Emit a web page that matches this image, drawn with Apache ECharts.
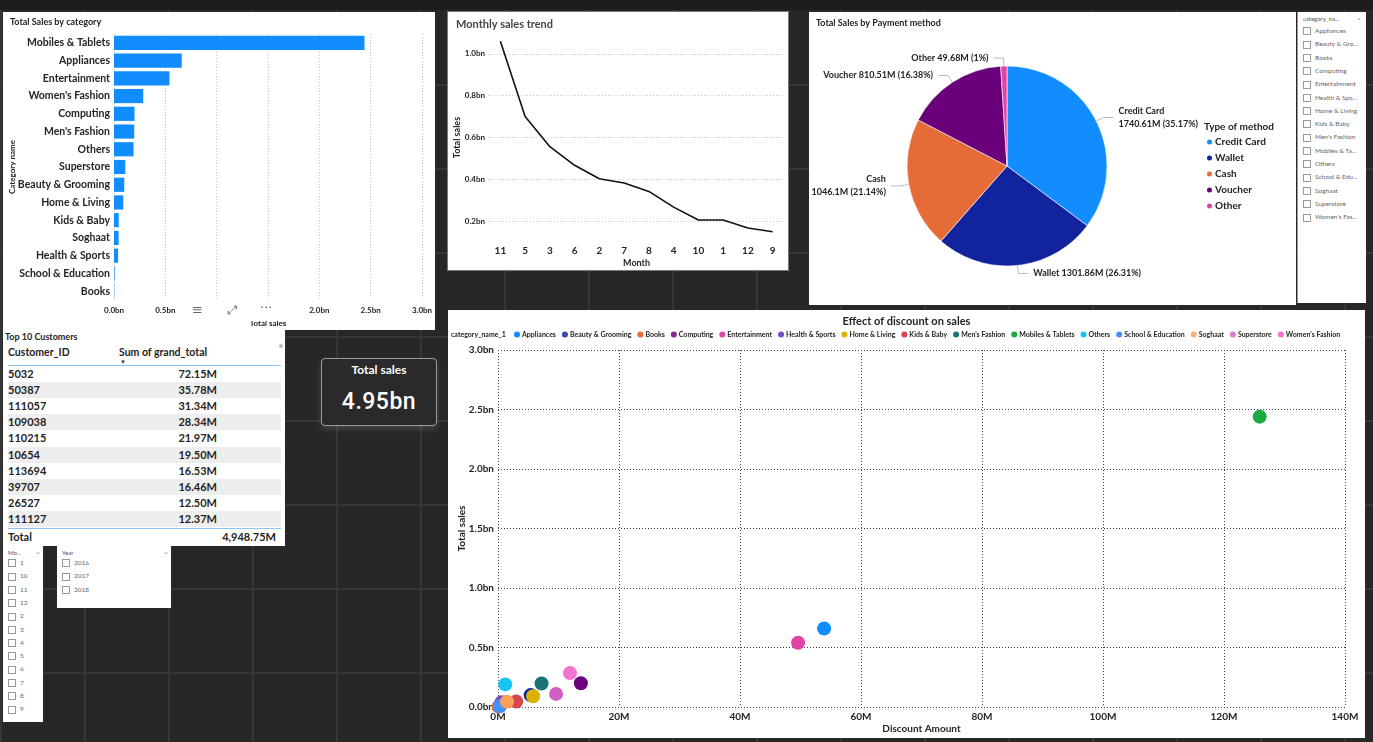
<!DOCTYPE html>
<html>
<head>
<meta charset="utf-8">
<script src="https://cdn.jsdelivr.net/npm/echarts@6/dist/echarts.min.js"></script>
<style>
  html, body { margin: 0; padding: 0; }
  body {
    width: 1373px; height: 742px; overflow: hidden; position: relative;
    background-color: #272727;
    background-image: linear-gradient(#363636 2px, transparent 2px), linear-gradient(90deg, #363636 2px, transparent 2px);
    background-size: 84px 84px;
    font-family: Lato, "Noto Sans", sans-serif;
  }
  .panel { position: absolute; background: #fff; }
  .slicer { position: absolute; background: #fff; color: #666; font-size: 6.5px; }
  .slicer .hd { position: absolute; font-size: 6px; color: #555; }
  .slicer .chev { position: absolute; font-size: 7px; color: #888; }
  .item { position: absolute; white-space: nowrap; }
  .box { display: inline-block; width: 6px; height: 6px; border: 1px solid #999; vertical-align: middle; margin-right: 4px; }
  .cell { position: absolute; font-size: 11px; font-weight: bold; color: #252423; white-space: nowrap; line-height: 16px; }
</style>
</head>
<body>
<div style="position:absolute;left:0;top:0;width:1373px;height:10px;background:#1d1d1d"></div>
<div id="bar" class="panel" style="left:3px;top:12px;width:432px;height:318px"></div>
<div id="line" class="panel" style="left:448px;top:12px;width:340px;height:258px;outline:1px solid #777"></div>
<div id="pie" class="panel" style="left:809px;top:12px;width:487px;height:293px"></div>
<div id="catSlicer" class="slicer" style="left:1297px;top:12px;width:68px;height:291px;border-left:1px solid #999"></div>
<div id="table" class="panel" style="left:3px;top:330px;width:282px;height:216px"></div>
<div id="card" style="position:absolute;left:321px;top:358px;width:114px;height:66px;border:1px solid #9a9a9a;border-radius:4px;background:#2a2a2a;box-shadow:0 3px 6px rgba(255,255,255,0.15);color:#fff;text-align:center">
  <div id="cardTitle" style="position:absolute;left:0;right:0;top:3px;font-size:12px;font-weight:bold"></div>
  <div id="cardValue" style="position:absolute;left:0;right:0;top:29px;font-size:23px;font-weight:500;font-family:Roboto,sans-serif;letter-spacing:0.5px"></div>
</div>
<div id="monthSlicer" class="slicer" style="left:3px;top:546px;width:40px;height:176px"></div>
<div id="yearSlicer" class="slicer" style="left:57px;top:546px;width:114px;height:62px"></div>
<div id="scatter" class="panel" style="left:448px;top:310px;width:917px;height:428px"></div>
<!-- hover icons sitting over the bar chart axis -->
<div style="position:absolute;left:188px;top:303px;width:94px;height:18px;background:#fff;color:#666;font-size:13px;font-family:'DejaVu Sans',sans-serif">
  <span style="position:absolute;left:4px;top:-1px">≡</span>
  <span style="position:absolute;left:40px;top:0px;font-size:12px">⤢</span>
  <span style="position:absolute;left:72px;top:-3px">···</span>
</div>

<script>
var FONT = 'Lato, "Noto Sans", sans-serif';
var INK = '#252423';

// categories, sorted by total sales (bn)
var categories = ['Mobiles & Tablets', 'Appliances', 'Entertainment', "Women's Fashion", 'Computing',
  "Men's Fashion", 'Others', 'Superstore', 'Beauty & Grooming', 'Home & Living', 'Kids & Baby',
  'Soghaat', 'Health & Sports', 'School & Education', 'Books'];
var salesBn = [2.44, 0.66, 0.54, 0.285, 0.20, 0.197, 0.19, 0.11, 0.10, 0.09, 0.046, 0.045, 0.04, 0.006, 0.003];
var discountM = [125.9, 53.9, 49.6, 11.9, 13.7, 7.2, 1.2, 9.6, 5.4, 5.8, 3.0, 1.5, 0.6, 0.3, 0.1];

// legend order of the scatter and its palette
var legendOrder = ['Appliances', 'Beauty & Grooming', 'Books', 'Computing', 'Entertainment', 'Health & Sports',
  'Home & Living', 'Kids & Baby', "Men's Fashion", 'Mobiles & Tablets', 'Others', 'School & Education',
  'Soghaat', 'Superstore', "Women's Fashion"];
var palette = ['#118DFF', '#12239E', '#E66C37', '#6B007B', '#E044A7', '#744EC2', '#D9B300', '#D64550',
  '#197278', '#1AAB40', '#15C6F4', '#4092FF', '#FFA058', '#D35FC4', '#F472D0'];
var dotted = ['Beauty & Grooming', 'Computing', 'Soghaat', 'Superstore'];

var months = ['11', '5', '3', '6', '2', '7', '8', '4', '10', '1', '12', '9'];
var monthlySalesBn = [1.06, 0.70, 0.556, 0.467, 0.403, 0.382, 0.342, 0.267, 0.205, 0.205, 0.167, 0.149];

var methods = ['Credit Card', 'Wallet', 'Cash', 'Voucher', 'Other'];
var methodSalesM = [1740.61, 1301.86, 1046.1, 810.51, 49.68];
var methodColors = ['#118DFF', '#12239E', '#E66C37', '#6B007B', '#E044A7'];

var customerIds = ['5032', '50387', '111057', '109038', '110215', '10654', '113694', '39707', '26527', '111127'];
var customerTotals = ['72.15M', '35.78M', '31.34M', '28.34M', '21.97M', '19.50M', '16.53M', '16.46M', '12.50M', '12.37M'];
var customerGrandTotal = '4,948.75M';

var totalSales = '4.95bn';
var slicerCategories = ['Appliances', 'Beauty & Gro...', 'Books', 'Computing', 'Entertainment', 'Health & Spo...',
  'Home & Living', 'Kids & Baby', "Men's Fashion", 'Mobiles & Ta...', 'Others', 'School & Edu...', 'Soghaat',
  'Superstore', "Women's Fas..."];
var slicerMonths = ['1', '10', '11', '12', '2', '3', '4', '5', '6', '7', '8', '9'];
var slicerYears = ['2016', '2017', '2018'];

function axisText(size) {
  return { fontSize: size, fontWeight: 'bold', color: INK, fontFamily: FONT };
}

// bar: total sales by category
function plotBar() {
  var chart = echarts.init(document.getElementById('bar'));
  chart.setOption({
    animation: false,
    title: { text: 'Total Sales by category', left: 2, top: 1, textStyle: axisText(9) },
    grid: { left: 111, right: 13, top: 22, bottom: 30, containLabel: false, outerBoundsMode: 'none' },
    xAxis: {
      type: 'value', min: 0, max: 3, interval: 0.5,
      axisLabel: { formatter: function (v) { return v.toFixed(1) + 'bn'; }, margin: 6, fontSize: 8, fontWeight: 'bold', color: INK, fontFamily: FONT },
      splitLine: { lineStyle: { type: [1, 2], color: '#c8c8c8' } },
      name: 'Total sales', nameLocation: 'middle', nameGap: 19, nameMoveOverlap: false, nameTextStyle: axisText(8)
    },
    yAxis: {
      type: 'category', inverse: true, data: categories,
      axisLine: { show: false }, axisTick: { show: false },
      axisLabel: { margin: 4, fontSize: 10.5, fontWeight: 'bold', color: INK, fontFamily: FONT },
      name: 'Category name', nameLocation: 'middle', nameGap: 98, nameMoveOverlap: false, nameTextStyle: axisText(8)
    },
    series: [{ type: 'bar', data: salesBn, barCategoryGap: '20%', itemStyle: { color: '#118DFF' } }]
  });
}

// line: monthly sales trend
function plotLine() {
  var chart = echarts.init(document.getElementById('line'));
  chart.setOption({
    animation: false,
    title: { text: 'Monthly sales trend', left: 3, top: 2, textStyle: { fontSize: 11, fontWeight: 'bold', color: '#444', fontFamily: FONT } },
    grid: { left: 40, right: 3, top: 21, bottom: 28, containLabel: false, outerBoundsMode: 'none' },
    xAxis: {
      type: 'category', data: months,
      axisLine: { show: false }, axisTick: { show: false },
      axisLabel: { margin: 4, fontSize: 10, fontWeight: 'bold', color: INK, fontFamily: FONT },
      name: 'Month', nameLocation: 'middle', nameGap: 17, nameMoveOverlap: false, nameTextStyle: axisText(9)
    },
    yAxis: {
      type: 'value', min: 0.1, max: 1.1, interval: 0.1,
      axisLabel: {
        formatter: function (v) { return Math.round(v * 10) % 2 === 0 ? v.toFixed(1) + 'bn' : ''; },
        margin: 3, fontSize: 8, fontWeight: 'bold', color: INK, fontFamily: FONT
      },
      splitLine: { lineStyle: { type: [1, 2], color: ['rgba(0,0,0,0)', '#c8c8c8'] } },
      name: 'Total sales', nameLocation: 'middle', nameGap: 26, nameMoveOverlap: false, nameTextStyle: axisText(9)
    },
    series: [{ type: 'line', data: monthlySalesBn, symbol: 'none', lineStyle: { color: '#111', width: 1.6 } }]
  });
}

// pie: total sales by payment method
function plotPie() {
  var chart = echarts.init(document.getElementById('pie'));
  var total = methodSalesM.reduce(function (a, b) { return a + b; }, 0);
  var data = methods.map(function (m, i) {
    return { name: m, value: methodSalesM[i], itemStyle: { color: methodColors[i] } };
  });
  chart.setOption({
    animation: false,
    title: { text: 'Total Sales by Payment method', left: 2, top: 2, textStyle: axisText(9) },
    legend: {
      data: methods, orient: 'vertical', left: 396, top: 125, icon: 'circle',
      itemWidth: 7, itemHeight: 7, itemGap: 6, padding: 0,
      textStyle: { fontSize: 10, fontWeight: 'bold', color: INK, fontFamily: FONT, padding: [0, 0, 0, -3] }
    },
    graphic: [{ type: 'text', left: 395, top: 110, style: { text: 'Type of method', fontSize: 10, fontWeight: 'bold', fill: INK, fontFamily: FONT } }],
    series: [{
      type: 'pie', center: [198, 154], radius: 100, startAngle: 90,
      data: data,
      itemStyle: { borderColor: '#fff', borderWidth: 0.6 },
      label: {
        width: 140, overflow: 'none',
        fontSize: 9, fontWeight: 'bold', color: INK, fontFamily: FONT, lineHeight: 13,
        formatter: function (p) {
          var pct = parseFloat((p.value / total * 100).toFixed(2));
          var txt = parseFloat(p.value.toFixed(2)) + 'M (' + pct + '%)';
          return (p.name === 'Credit Card' || p.name === 'Cash') ? p.name + '\n' + txt : p.name + ' ' + txt;
        }
      },
      labelLine: { length: 8, length2: 10, lineStyle: { color: '#bbb' } }
    }]
  });
}

// scatter: effect of discount on sales
function plotScatter() {
  var chart = echarts.init(document.getElementById('scatter'));
  var series = legendOrder.map(function (name, i) {
    var k = categories.indexOf(name);
    var dots = dotted.indexOf(name) >= 0;
    return {
      name: name, type: 'scatter', symbolSize: 14,
      data: [[discountM[k], salesBn[k]]],
      itemStyle: {
        color: palette[i], opacity: 1,
        // dotted fill on a few markers, an invisible pattern on the rest
        decal: {
          symbol: 'circle', symbolSize: 0.7, dashArrayX: [2, 0], dashArrayY: [2, 0],
          color: dots ? 'rgba(255,255,255,0.5)' : 'rgba(255,255,255,0)'
        }
      }
    };
  });
  chart.setOption({
    animation: false,
    aria: { enabled: true, decal: { show: true } },
    title: { text: 'Effect of discount on sales', left: 'center', top: 1, textStyle: { fontSize: 11, fontWeight: 'bold', color: INK, fontFamily: FONT } },
    graphic: [{ type: 'text', left: 3, top: 21, style: { text: 'category_name_1', fontSize: 7, fontWeight: 'bold', fill: INK, fontFamily: FONT } }],
    legend: {
      data: legendOrder, left: 66, top: 21, icon: 'circle', itemWidth: 6, itemHeight: 6, itemGap: 6, padding: 0,
      textStyle: { fontSize: 7, fontWeight: 'bold', color: INK, fontFamily: FONT, padding: [0, 0, 0, -3] }
    },
    grid: { left: 50, right: 20, top: 40, bottom: 31, containLabel: false, outerBoundsMode: 'none' },
    xAxis: {
      type: 'value', min: 0, max: 140, interval: 20,
      axisLine: { show: false }, axisTick: { show: false },
      axisLabel: { formatter: '{value}M', margin: 5, fontSize: 10, fontWeight: 'bold', color: INK, fontFamily: FONT },
      splitLine: { lineStyle: { type: [1, 2], color: '#444' } },
      name: 'Discount Amount', nameLocation: 'middle', nameGap: 17, nameMoveOverlap: false, nameTextStyle: axisText(10)
    },
    yAxis: {
      type: 'value', min: 0, max: 3, interval: 0.5,
      axisLine: { show: false }, axisTick: { show: false },
      axisLabel: { formatter: function (v) { return v.toFixed(1) + 'bn'; }, margin: 4, fontSize: 10, fontWeight: 'bold', color: INK, fontFamily: FONT },
      splitLine: { lineStyle: { type: [1, 2], color: '#444' } },
      name: 'Total sales', nameLocation: 'middle', nameGap: 31, nameMoveOverlap: false, nameTextStyle: axisText(10)
    },
    series: series
  });
}

// table of top customers
function buildTable() {
  var t = document.getElementById('table');
  var html = '<div style="position:absolute;left:2px;top:1px;font-size:9px;font-weight:bold;color:' + INK + '">Top 10 Customers</div>';
  html += '<div class="cell" style="left:5px;top:14px;font-size:10.5px">Customer_ID</div>';
  html += '<div class="cell" style="left:116px;top:14px;font-size:10.5px">Sum of grand_total</div>';
  html += '<div style="position:absolute;left:117px;top:28px;font-size:6px;color:#333">▼</div>';
  html += '<div style="position:absolute;left:276px;top:14px;width:4px;height:4px;border-radius:2px;background:#bbb"></div>';
  html += '<div style="position:absolute;left:5px;top:35px;width:273px;height:1px;background:#8cc4f5"></div>';
  for (var i = 0; i < customerIds.length; i++) {
    var top = 36 + i * 16.1;
    if (i % 2 === 1) html += '<div style="position:absolute;left:5px;top:' + top + 'px;width:273px;height:16px;background:#eeeeee"></div>';
    html += '<div class="cell" style="left:5px;top:' + top + 'px">' + customerIds[i] + '</div>';
    html += '<div class="cell" style="right:68px;top:' + top + 'px">' + customerTotals[i] + '</div>';
  }
  html += '<div style="position:absolute;left:5px;top:198px;width:273px;height:1px;background:#8cc4f5"></div>';
  html += '<div class="cell" style="left:5px;top:199px">Total</div>';
  html += '<div class="cell" style="right:9px;top:199px">' + customerGrandTotal + '</div>';
  t.innerHTML = html;
}

function buildSlicer(id, title, items, startY, chevX) {
  var s = document.getElementById(id);
  var html = '<div class="hd" style="left:5px;top:3px">' + title + '</div>';
  html += '<div class="chev" style="left:' + chevX + 'px;top:1px">⌄</div>';
  for (var i = 0; i < items.length; i++) {
    html += '<div class="item" style="left:5px;top:' + (startY + i * 13.3) + 'px"><span class="box"></span>' + items[i] + '</div>';
  }
  s.innerHTML = html;
}

function buildCard() {
  document.getElementById('cardTitle').textContent = 'Total sales';
  document.getElementById('cardValue').textContent = totalSales;
}

plotBar();
plotLine();
plotPie();
plotScatter();
buildTable();
buildSlicer('catSlicer', 'category_na...', slicerCategories, 15, 58);
buildSlicer('monthSlicer', 'Mo...', slicerMonths, 13, 32);
buildSlicer('yearSlicer', 'Year', slicerYears, 13, 106);
buildCard();
</script>
</body>
</html>
